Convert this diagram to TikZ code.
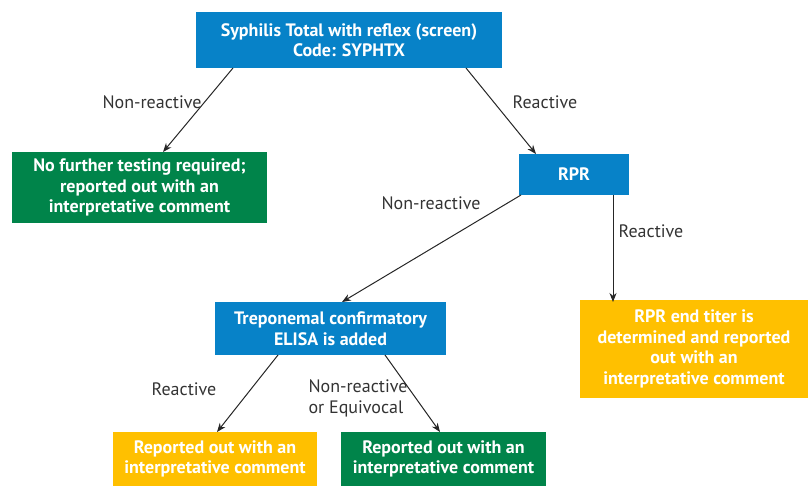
\documentclass[tikz,border=0pt]{standalone}
\usepackage{fontspec}
\setmainfont{PT Sans}
\usetikzlibrary{arrows.meta}
\definecolor{cblue}{HTML}{0782C8}
\definecolor{cgreen}{HTML}{00844A}
\definecolor{cyellow}{HTML}{FFC000}
\definecolor{ctext}{HTML}{333333}
\tikzset{
  box/.style={inner sep=0pt, outer sep=0pt, text=white, align=center,
    font=\fontsize{18}{20.5}\selectfont\bfseries},
  bluebox/.style={box, fill=cblue},
  greenbox/.style={box, fill=cgreen},
  yellowbox/.style={box, fill=cyellow},
  conn/.style={draw=black!85, line width=1pt, -{Stealth[length=9pt,width=7pt]}},
  lbl/.style={text=ctext, align=left, font=\fontsize{18}{21}\selectfont}
}
\begin{document}
\begin{tikzpicture}[x=1pt,y=-1pt]
\useasboundingbox (0,0) rectangle (810,487);
\node[bluebox, minimum width=306pt, minimum height=56pt] (top) at (349,40)
  {Syphilis Total with reflex (screen)\\Code: SYPHTX};
\node[greenbox, minimum width=255pt, minimum height=71pt] (g1) at (139.5,187.5)
  {No further testing required;\\reported out with an\\interpretative comment};
\node[bluebox, minimum width=110pt, minimum height=41pt] (rpr) at (574,174.5) {RPR};
\node[bluebox, minimum width=231pt, minimum height=53pt] (elisa) at (330.5,328.5)
  {Treponemal confirmatory\\ELISA is added};
\node[yellowbox, minimum width=228pt, minimum height=98pt] (y1) at (694,349)
  {RPR end titer is\\determined and reported\\out with an\\interpretative comment};
\node[yellowbox, minimum width=204pt, minimum height=54pt] (y2) at (215,459)
  {Reported out with an\\interpretative comment};
\node[greenbox, minimum width=205pt, minimum height=54pt] (g2) at (443.5,459)
  {Reported out with an\\interpretative comment};

\draw[conn] ([xshift=-116pt]top.south) -- ([xshift=23.5pt]g1.north);
\draw[conn] ([xshift=117pt]top.south) -- ([xshift=-38pt]rpr.north);
\draw[conn] ([xshift=-53pt]rpr.south) -- ([xshift=11.5pt]elisa.north);
\draw[conn] ([xshift=39pt]rpr.south) -- ([xshift=39pt,yshift=-2pt]rpr.south |- y1.north);
\draw[conn] ([xshift=-52.5pt]elisa.south) -- ([xshift=2pt]y2.north);
\draw[conn] ([xshift=54.5pt]elisa.south) -- ([xshift=-3.5pt]g2.north);

\node[lbl] (l1) at (152,102) {Non-reactive};
\node[lbl] (l2) at (545,102) {Reactive};
\node[lbl] (l3) at (431,203) {Non-reactive};
\node[lbl] (l4) at (651,231) {Reactive};
\node[lbl] (l5) at (184,389) {Reactive};
\node[lbl] (l6) at (358,398) {Non-reactive\\or Equivocal};
\end{tikzpicture}
\end{document}
